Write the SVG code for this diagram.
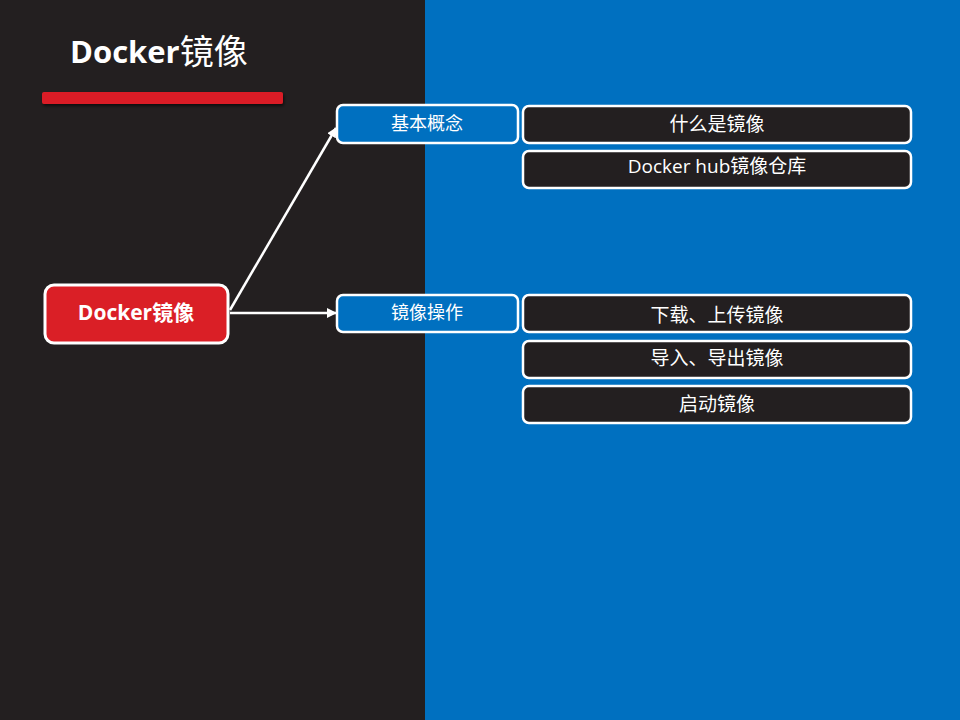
<svg xmlns="http://www.w3.org/2000/svg" width="960" height="720" viewBox="0 0 960 720">
<defs>
<style>
.t{font-family:"Open Sans","Noto Sans CJK SC",sans-serif;fill:#fff;text-anchor:middle;dominant-baseline:central}
.sub{fill:#0070C0;stroke:#fff;stroke-width:2.5}
.leaf{fill:#231F20;stroke:#fff;stroke-width:2.5}
.c{stroke:#fff;stroke-width:2.5;fill:none;marker-end:url(#ah)}
.lt{font-size:19px}
</style>
<marker id="ah" viewBox="0 0 10 10" refX="9" refY="5" markerWidth="4" markerHeight="4" orient="auto" markerUnits="strokeWidth">
<path d="M0,0L10,5L0,10z" fill="#fff"/>
</marker>
<filter id="sh" x="-5%" y="-50%" width="110%" height="200%">
<feDropShadow dx="1" dy="2" stdDeviation="1.5" flood-color="#000" flood-opacity="0.6"/>
</filter>
</defs>
<rect x="0" y="0" width="425" height="720" fill="#231F20"/>
<rect x="425" y="0" width="535" height="720" fill="#0070C0"/>
<g id="title">
<text x="70" y="51" class="t" style="text-anchor:start;font-size:31px;font-weight:bold">Docker<tspan font-weight="normal" font-size="34px">镜像</tspan></text>
<rect x="42" y="92" width="241" height="12" rx="2" fill="#DA1F26" filter="url(#sh)"/>
</g>
<g id="connectors">
<path class="c" d="M230,310L336,128"/>
<path class="c" d="M230,313L336,313"/>
</g>
<g id="root">
<rect x="45" y="285" width="183" height="58" rx="9" fill="#DA1F26" stroke="#fff" stroke-width="3"/>
<text x="136" y="312" class="t" style="font-size:21px;font-weight:bold">Docker镜像</text>
</g>
<g id="n-basic">
<rect class="sub" x="337" y="105" width="181" height="38" rx="6"/>
<text x="427" y="123" class="t" style="font-size:18px">基本概念</text>
</g>
<g id="n-ops">
<rect class="sub" x="337" y="295" width="181" height="37" rx="6"/>
<text x="427" y="312" class="t" style="font-size:18px">镜像操作</text>
</g>
<g id="l1">
<rect class="leaf" x="523" y="106" width="388" height="37" rx="6"/>
<text x="717" y="124" class="t lt">什么是镜像</text>
</g>
<g id="l2">
<rect class="leaf" x="523" y="151" width="388" height="37" rx="6"/>
<text x="717" y="166" class="t lt">Docker hub镜像仓库</text>
</g>
<g id="l3">
<rect class="leaf" x="523" y="295" width="388" height="37" rx="6"/>
<text x="717" y="315" class="t lt">下载、上传镜像</text>
</g>
<g id="l4">
<rect class="leaf" x="523" y="341" width="388" height="37" rx="6"/>
<text x="717" y="358" class="t lt">导入、导出镜像</text>
</g>
<g id="l5">
<rect class="leaf" x="523" y="386" width="388" height="37" rx="6"/>
<text x="717" y="404" class="t lt">启动镜像</text>
</g>
</svg>
